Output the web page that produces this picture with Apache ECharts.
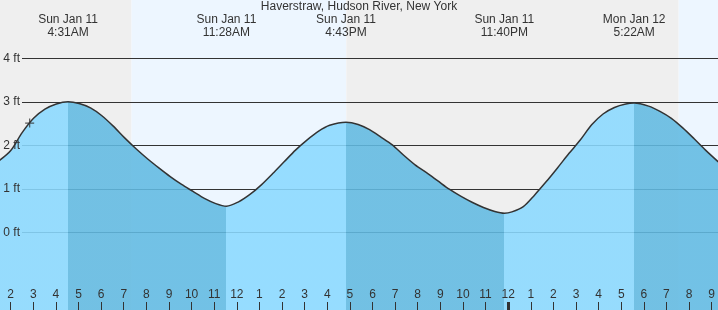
<!DOCTYPE html>
<html><head><meta charset="utf-8">
<script src="https://cdn.jsdelivr.net/npm/echarts@6/dist/echarts.min.js"></script>
<style>html,body{margin:0;padding:0;background:#fff}#c{width:718px;height:310px}</style>
</head><body><div id="c"></div>
<script>
const titleText = 'Haverstraw, Hudson River, New York';
// hours since 00:00 Sun Jan 11
const tideHours = [1.50, 2.0, 2.5, 3.0, 3.5, 4.0, 4.517,
  5.0, 5.5, 6.0, 6.5, 7.0, 7.5, 8.0, 8.5, 9.0, 9.5, 10.0, 10.5, 11.0, 11.467,
  12.0, 12.5, 13.0, 13.5, 14.0, 14.5, 15.0, 15.5, 16.0, 16.717,
  17.25, 17.75, 18.25, 18.75, 19.25, 19.75, 20.25, 20.75, 21.25, 21.75, 22.25, 22.75, 23.25, 23.667,
  24.0, 24.5, 25.0, 25.5, 26.0, 26.5, 27.0, 27.5, 28.0, 28.5, 29.0, 29.367,
  30.0, 30.5, 31.0, 31.5, 32.0, 32.5, 33.06];
const tideFeet = [1.65, 1.88, 2.29, 2.62, 2.83, 2.95, 3.00,
  2.96, 2.86, 2.68, 2.44, 2.17, 1.92, 1.69, 1.48, 1.28, 1.10, 0.94, 0.78, 0.66, 0.60,
  0.70, 0.87, 1.09, 1.35, 1.62, 1.89, 2.12, 2.32, 2.46, 2.53,
  2.48, 2.36, 2.19, 2.01, 1.77, 1.55, 1.37, 1.18, 0.99, 0.83, 0.69, 0.57, 0.48, 0.44,
  0.47, 0.59, 0.86, 1.16, 1.48, 1.81, 2.12, 2.47, 2.72, 2.87, 2.95, 2.97,
  2.90, 2.78, 2.62, 2.40, 2.15, 1.89, 1.62];
const extremeHours = [4.517, 11.467, 16.717, 23.667, 29.367];
const extremeLabels = ['Sun Jan 11\n4:31AM', 'Sun Jan 11\n11:28AM', 'Sun Jan 11\n4:43PM', 'Sun Jan 11\n11:40PM', 'Mon Jan 12\n5:22AM'];
const hourTicks = [2, 3, 4, 5, 6, 7, 8, 9, 10, 11, 12, 13, 14, 15, 16, 17, 18, 19, 20, 21, 22, 23, 24, 25, 26, 27, 28, 29, 30, 31, 32, 33];
const bandStart = [1, 7.30, 16.73, 31.32];
const bandEnd   = [7.30, 16.73, 31.32, 34];
const bandIsDay = [0, 1, 0, 1];
const yTicks = [0, 1, 2, 3, 4];
const nowPoint = [2.83, 2.51];
const dateChangeHour = 24;
const hourMin = 1.5277, hourMax = 33.047;
const feetMin = -1.786, feetMax = 5.340;

const FONT = 'Liberation Sans';
const TXT = '#333';
const LIGHT = 'rgba(138,217,255,0.88)';
const DARK = 'rgba(97,186,226,0.88)';
const NIGHT = '#efefef';
const DAY = '#edf6ff';

const tideData = tideHours.map((h, i) => [h, tideFeet[i]]);
const bandData = bandStart.map((s, i) => [s, bandEnd[i], bandIsDay[i]]);

const pieces = [];
pieces.push({lt: extremeHours[0], color: LIGHT});
for (let i = 0; i < extremeHours.length - 1; i++) {
  pieces.push({min: extremeHours[i], max: extremeHours[i + 1], color: i % 2 === 0 ? DARK : LIGHT});
}
pieces.push({gte: extremeHours[extremeHours.length - 1], color: (extremeHours.length - 1) % 2 === 0 ? DARK : LIGHT});

const hourFmt = v => { const h = ((Math.round(v) % 12) + 12) % 12; return h === 0 ? '12' : String(h); };
const extremeFmt = v => { let best = 0; extremeHours.forEach((e, i) => { if (Math.abs(e - v) < Math.abs(extremeHours[best] - v)) best = i; }); return extremeLabels[best]; };

const chart = echarts.init(document.getElementById('c'), null, {renderer: 'canvas'});
chart.setOption({
  animation: false,
  backgroundColor: '#fff',
  title: {text: titleText, left: 'center', top: 1, padding: 0,
    textStyle: {fontSize: 12, fontWeight: 'normal', color: TXT, fontFamily: FONT}},
  grid: [
    {left: 0, right: 0, top: 0, bottom: 0},
    {left: 22, right: 0, top: 58.3, bottom: 77.7},
    {left: 0, right: 0, top: 302, bottom: 0},
    {left: 0, right: 0, top: 40, height: 10}
  ],
  visualMap: {show: false, type: 'piecewise', seriesIndex: 1, dimension: 0, pieces: pieces},
  xAxis: [
    {gridIndex: 0, type: 'value', min: hourMin, max: hourMax, show: false},
    {gridIndex: 1, type: 'value', min: hourMin, max: hourMax, show: false},
    {gridIndex: 2, type: 'value', min: hourMin, max: hourMax, z: 6,
      axisLine: {show: false}, splitLine: {show: false},
      axisTick: {inside: true, length: 8, customValues: hourTicks, lineStyle: {color: TXT, width: 1}},
      axisLabel: {inside: true, margin: 9, customValues: hourTicks, color: TXT, fontSize: 12, fontFamily: FONT, formatter: hourFmt}},
    {gridIndex: 3, type: 'value', position: 'top', min: hourMin, max: hourMax,
      axisLine: {show: false}, axisTick: {show: false}, splitLine: {show: false},
      axisLabel: {customValues: extremeHours, margin: 1, color: TXT, fontSize: 12, lineHeight: 13, fontFamily: FONT, align: 'center', formatter: extremeFmt}}
  ],
  yAxis: [
    {gridIndex: 0, type: 'value', min: feetMin, max: feetMax, show: false},
    {gridIndex: 1, type: 'value', min: yTicks[0], max: yTicks[yTicks.length - 1], interval: 1, position: 'left', z: 2,
      axisLine: {show: false}, axisTick: {show: false}, axisLabel: {show: false},
      splitLine: {show: true, lineStyle: {color: TXT, width: 1}}},
    {gridIndex: 1, type: 'value', min: yTicks[0], max: yTicks[yTicks.length - 1], interval: 1, position: 'left', offset: 0, z: 6,
      axisLine: {show: false}, axisTick: {show: false}, splitLine: {show: false},
      axisLabel: {formatter: '{value} ft', margin: 2, color: TXT, fontSize: 12, fontFamily: FONT}},
    {gridIndex: 2, type: 'value', min: 0, max: 1, show: false},
    {gridIndex: 3, type: 'value', min: 0, max: 1, show: false}
  ],
  series: [
    {type: 'custom', xAxisIndex: 0, yAxisIndex: 0, z: 0, silent: true, data: bandData,
      encode: {x: [0, 1], y: 2},
      renderItem: (params, api) => {
        const s = api.coord([api.value(0), feetMax]);
        const e = api.coord([api.value(1), feetMin]);
        return {type: 'rect', shape: {x: s[0], y: s[1], width: e[0] - s[0], height: e[1] - s[1]},
          style: {fill: api.value(2) ? DAY : NIGHT}};
      }},
    {type: 'line', xAxisIndex: 0, yAxisIndex: 0, z: 3, silent: true, data: tideData,
      smooth: 0.3, showSymbol: false, symbol: 'none',
      lineStyle: {color: '#333', width: 1.5},
      areaStyle: {opacity: 1, origin: 'start'}},
    {type: 'scatter', xAxisIndex: 0, yAxisIndex: 0, z: 5, silent: true, data: [nowPoint],
      symbol: 'path://M0,5L10,5M5,0L5,10', symbolSize: 9,
      itemStyle: {color: 'rgba(0,0,0,0)', borderColor: '#333', borderWidth: 1.2}},
    {type: 'line', xAxisIndex: 2, yAxisIndex: 3, z: 7, silent: true, data: [],
      markLine: {silent: true, symbol: ['none', 'none'], label: {show: false},
        lineStyle: {color: '#333', width: 3, type: 'solid'},
        data: [[{coord: [dateChangeHour, 0]}, {coord: [dateChangeHour, 1]}]]}}
  ]
});
</script></body></html>
